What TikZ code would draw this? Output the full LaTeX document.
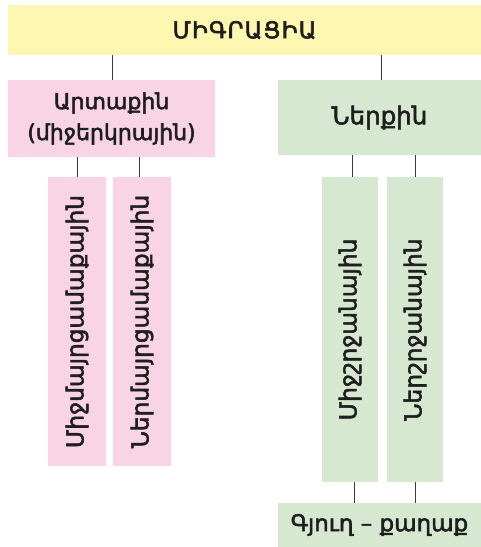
\documentclass[tikz,border=0pt]{standalone}
\usepackage{fontspec}
\setmainfont{DejaVu Sans}
\newfontfamily\titlefont{DejaVu Sans}[LetterSpace=5]
\newcommand\fakebf{\special{pdf:literal direct 2 Tr 0.55 w}}
\newcommand\nofakebf{\special{pdf:literal direct 0 Tr}}
\definecolor{cyel}{RGB}{253,247,178}
\definecolor{cpink}{RGB}{249,212,228}
\definecolor{cgreen}{RGB}{214,233,208}
\definecolor{cline}{RGB}{60,60,60}
\definecolor{ctext}{RGB}{30,30,30}
\begin{document}
\begin{tikzpicture}[x=1pt,y=-1pt,
  box/.style={inner sep=0pt, outer sep=0pt, draw=none, align=center, text=ctext},
  fsz/.style={font=\fontsize{#1}{28}\selectfont},
  vtext/.style={rotate=90, text=ctext, font=\fontsize{23.3}{26}\selectfont},
  conn/.style={draw=cline, line width=0.9pt}]
\useasboundingbox (0,0) rectangle (481,547);
% top
\node[box, font=\titlefont\fontsize{23}{28}\selectfont, fill=cyel, minimum width=473, minimum height=50, anchor=north west] (top) at (8,5) {\fakebf ՄԻԳՐԱՑԻԱ\nofakebf};
% level 2
\node[box, font=\fontsize{22}{31}\selectfont, fill=cpink, minimum width=207, minimum height=77, anchor=north west] (ext) at (8,80) {\fakebf Արտաքին\nofakebf\\\fakebf (միջերկրային)\nofakebf};
\node[box, font=\fontsize{24.5}{28}\selectfont, fill=cgreen, minimum width=203, minimum height=75, anchor=north west] (int) at (278,80) {\fakebf Ներքին\nofakebf};
% level 3
\node[box, fill=cpink, minimum width=58, minimum height=289, anchor=north west] (p1) at (48,177) {};
\node[box, fill=cpink, minimum width=58, minimum height=289, anchor=north west] (p2) at (113,177) {};
\node[box, fill=cgreen, minimum width=56, minimum height=305, anchor=north west] (g1) at (322,177) {};
\node[box, fill=cgreen, minimum width=56, minimum height=305, anchor=north west] (g2) at (387,177) {};
\node[vtext] (t1) at (p1.center) {\fakebf Միջմայրցամաքային\nofakebf};
\node[vtext] (t2) at (p2.center) {\fakebf Ներմայրցամաքային\nofakebf};
\node[vtext] (t3) at (g1.center) {\fakebf Միջշրջանային\nofakebf};
\node[vtext] (t4) at (g2.center) {\fakebf Ներշրջանային\nofakebf};
% bottom
\node[box, fsz=23, fill=cgreen, minimum width=203, minimum height=44, anchor=north west] (vil) at (278,503) {\fakebf Գյուղ – քաղաք\nofakebf};
% connectors
\draw[conn] (top.south -| 112,0) -- (ext.north -| 112,0);
\draw[conn] (top.south -| 381,0) -- (int.north -| 381,0);
\draw[conn] (ext.south -| 77,0) -- (p1.north -| 77,0);
\draw[conn] (ext.south -| 139,0) -- (p2.north -| 139,0);
\draw[conn] (int.south -| 352,0) -- (g1.north -| 352,0);
\draw[conn] (int.south -| 415,0) -- (g2.north -| 415,0);
\draw[conn] (g1.south -| 354,0) -- (vil.north -| 354,0);
\draw[conn] (g2.south -| 415,0) -- (vil.north -| 415,0);
\end{tikzpicture}
\end{document}
